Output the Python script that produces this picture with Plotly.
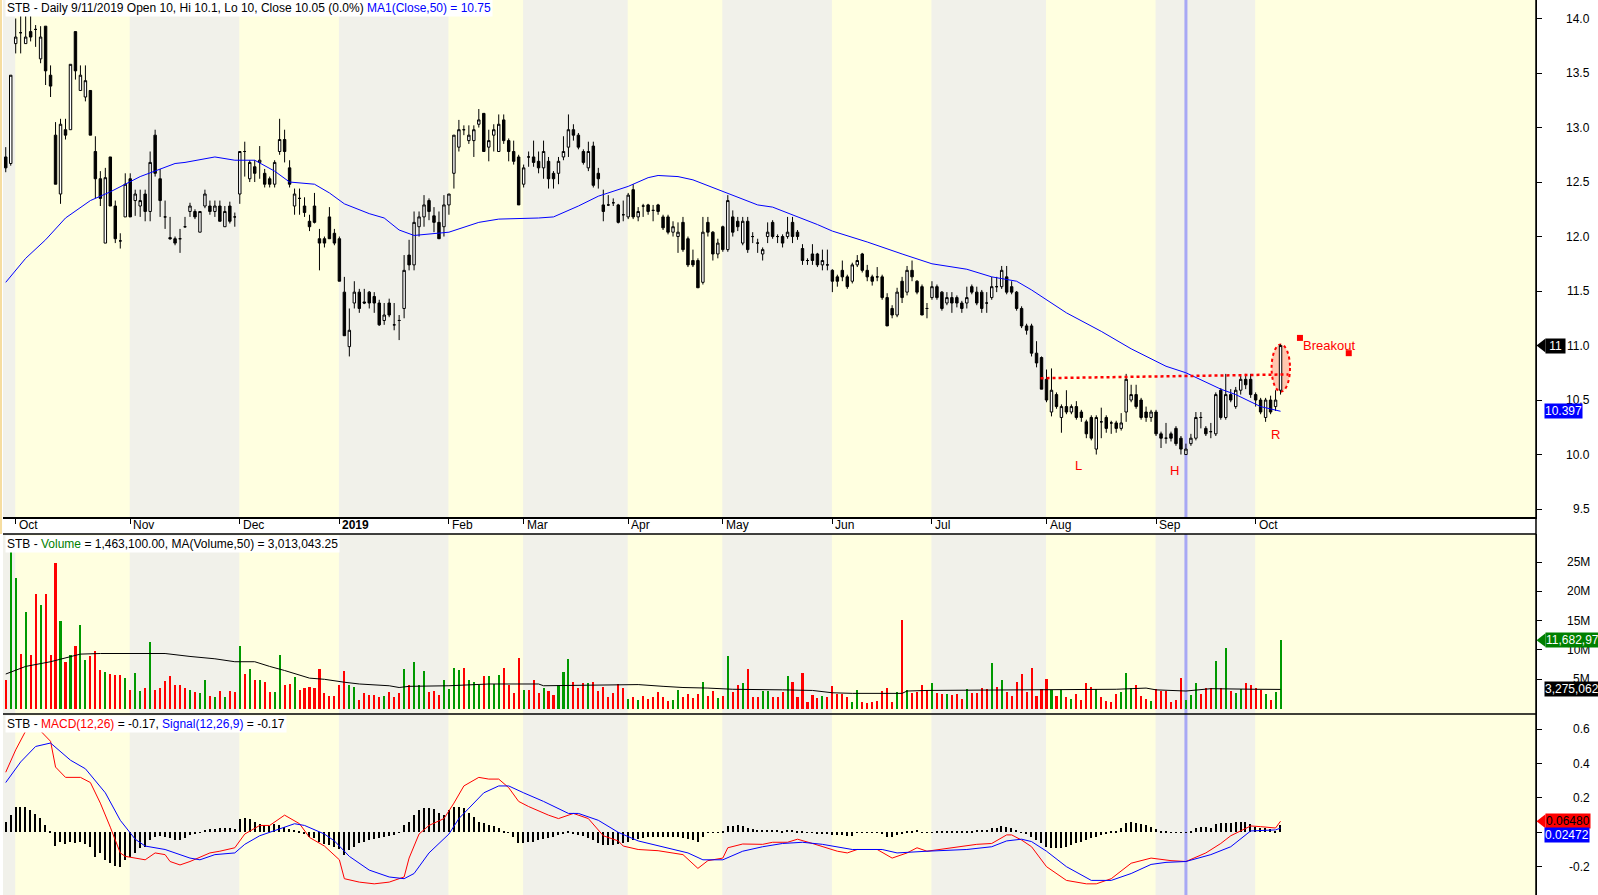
import plotly.graph_objects as go

# STB daily, bar 0 = 27 Sep 2018 ... bar 256 = 8 Oct 2019 (one bar per trading day)
month_start = [2, 25, 47, 67, 89, 104, 125, 144, 166, 186, 209, 231, 251]
month_text = ["Oct", "Nov", "Dec", "<b>2019</b>", "Feb", "Mar", "Apr", "May",
              "Jun", "Jul", "Aug", "Sep", "Oct"]

open_ = [12.73,12.67,13.77,13.87,13.77,13.88,13.90,13.63,13.93,13.48,
         12.93,12.39,12.98,12.98,13.88,13.34,13.28,13.34,12.78,12.53,
         11.94,12.73,12.28,11.96,12.18,12.53,12.33,12.28,12.39,12.23,
         12.93,12.53,12.18,11.99,11.98,11.98,12.09,12.23,12.23,12.04,
         12.28,12.28,12.23,12.28,12.09,12.28,12.18,12.39,12.78,12.53,
         12.64,12.68,12.58,12.53,12.48,12.78,12.89,12.63,12.28,12.35,
         12.28,12.14,12.28,11.98,11.98,12.18,12.03,11.98,11.49,10.99,
         11.39,11.49,11.40,11.49,11.45,11.39,11.23,11.39,11.19,11.23,
         11.34,11.83,11.74,12.09,12.18,12.33,12.19,12.13,12.09,12.29,
         12.58,12.82,12.98,12.88,12.88,13.03,13.13,12.82,12.93,12.78,
         13.07,12.88,12.78,12.73,12.48,12.73,12.73,12.69,12.63,12.69,
         12.58,12.58,12.73,12.82,12.98,12.93,12.78,12.63,12.83,12.58,
         12.29,12.29,12.31,12.29,12.20,12.18,12.43,12.18,12.28,12.29,
         12.24,12.29,12.18,12.18,12.04,12.00,12.13,11.98,11.78,11.78,
         11.58,12.13,12.04,11.84,12.09,11.88,12.18,12.14,11.94,12.14,
         12.00,11.94,11.84,12.00,12.13,12.00,12.00,12.00,12.13,12.04,
         11.89,11.78,11.84,11.84,11.74,11.74,11.69,11.63,11.69,11.63,
         11.59,11.74,11.84,11.69,11.63,11.63,11.63,11.44,11.34,11.28,
         11.59,11.49,11.69,11.59,11.54,11.34,11.44,11.54,11.49,11.39,
         11.44,11.44,11.39,11.39,11.54,11.49,11.49,11.39,11.44,11.54,
         11.54,11.63,11.54,11.49,11.34,11.18,11.18,10.93,10.89,10.69,
         10.39,10.55,10.34,10.44,10.39,10.44,10.39,10.30,10.34,10.05,
         10.30,10.34,10.29,10.29,10.24,10.39,10.50,10.55,10.50,10.39,
         10.34,10.39,10.19,10.15,10.19,10.24,10.15,10.00,10.10,10.15,
         10.34,10.24,10.21,10.19,10.59,10.34,10.55,10.44,10.59,10.69,
         10.69,10.55,10.50,10.34,10.50,10.44,10.59]

high_ = [12.82,13.48,14.00,14.03,14.03,14.03,13.94,13.93,13.93,13.57,
         13.05,13.08,13.08,13.58,13.88,13.57,13.57,13.34,12.92,12.60,
         12.63,12.73,12.33,12.03,12.58,12.58,12.43,12.43,12.43,12.78,
         12.98,12.62,12.33,12.18,12.00,12.07,12.18,12.31,12.25,12.23,
         12.43,12.33,12.33,12.33,12.28,12.32,12.22,12.78,12.87,12.70,
         12.70,12.83,12.62,12.55,12.70,13.08,12.98,12.70,12.44,12.44,
         12.36,12.20,12.40,12.07,12.00,12.27,12.07,12.00,11.63,11.34,
         11.59,11.52,11.52,11.50,11.49,11.42,11.39,11.43,11.39,11.28,
         11.83,11.97,12.23,12.23,12.38,12.35,12.27,12.23,12.38,12.39,
         12.93,13.07,13.02,13.02,13.02,13.17,13.13,12.98,13.03,13.12,
         13.12,12.90,12.88,12.75,12.66,12.78,12.88,12.78,12.88,12.73,
         12.60,12.73,12.92,13.12,13.03,12.95,12.80,12.87,12.87,12.63,
         12.43,12.38,12.35,12.30,12.33,12.40,12.48,12.27,12.30,12.30,
         12.29,12.30,12.20,12.20,12.14,12.13,12.18,12.00,11.88,11.80,
         12.18,12.18,12.05,11.98,12.10,12.38,12.24,12.18,12.18,12.18,
         12.04,11.98,11.90,12.13,12.15,12.02,12.02,12.18,12.18,12.06,
         11.93,11.80,11.93,11.85,11.88,11.88,11.70,11.65,11.78,11.65,
         11.76,11.83,11.85,11.74,11.65,11.72,11.65,11.48,11.37,11.53,
         11.63,11.73,11.78,11.60,11.56,11.39,11.59,11.56,11.50,11.49,
         11.49,11.46,11.41,11.54,11.56,11.54,11.51,11.49,11.63,11.63,
         11.73,11.73,11.59,11.50,11.36,11.20,11.20,11.04,10.90,10.78,
         10.79,10.57,10.46,10.59,10.46,10.49,10.41,10.32,10.36,10.36,
         10.43,10.36,10.31,10.31,10.38,10.74,10.64,10.64,10.52,10.44,
         10.41,10.41,10.21,10.29,10.21,10.26,10.17,10.10,10.19,10.39,
         10.39,10.26,10.29,10.57,10.61,10.74,10.60,10.62,10.72,10.74,
         10.74,10.57,10.52,10.52,10.54,10.59,11.01]

low_ = [12.59,12.65,13.68,13.68,13.77,13.79,13.74,13.59,13.39,13.28,
        12.48,12.30,12.89,12.98,13.44,13.34,13.24,12.93,12.35,12.28,
        11.94,12.28,11.94,11.89,12.18,12.18,12.19,12.18,12.14,12.14,
        12.55,12.18,12.07,11.97,11.92,11.85,12.08,12.18,12.16,12.04,
        12.26,12.20,12.18,12.14,12.09,12.12,12.09,12.30,12.55,12.50,
        12.50,12.53,12.45,12.45,12.45,12.75,12.68,12.45,12.20,12.20,
        12.18,12.05,12.12,11.69,11.90,11.98,11.92,11.59,11.09,10.90,
        11.34,11.30,11.38,11.34,11.30,11.18,11.19,11.26,11.14,11.05,
        11.25,11.69,11.69,12.00,12.09,12.15,12.04,11.98,12.00,12.20,
        12.44,12.78,12.93,12.85,12.73,13.00,12.78,12.69,12.78,12.78,
        12.85,12.69,12.66,12.29,12.45,12.64,12.64,12.58,12.53,12.44,
        12.44,12.48,12.70,12.73,12.88,12.80,12.66,12.60,12.45,12.44,
        12.14,12.28,12.28,12.12,12.14,12.16,12.16,12.14,12.18,12.20,
        12.14,12.20,12.06,12.02,12.00,11.85,11.86,11.72,11.72,11.53,
        11.56,12.00,11.78,11.80,11.86,11.86,12.00,12.05,11.92,11.85,
        11.94,11.85,11.78,11.94,11.98,11.94,11.90,11.98,11.94,11.97,
        11.74,11.74,11.74,11.72,11.69,11.69,11.49,11.54,11.59,11.52,
        11.57,11.72,11.67,11.59,11.55,11.59,11.42,11.18,11.25,11.26,
        11.39,11.46,11.59,11.47,11.28,11.25,11.42,11.42,11.32,11.37,
        11.30,11.35,11.30,11.34,11.47,11.37,11.30,11.30,11.42,11.49,
        11.52,11.47,11.47,11.32,11.16,11.10,10.90,10.80,10.60,10.48,
        10.35,10.42,10.20,10.37,10.37,10.32,10.30,10.15,10.13,10.00,
        10.15,10.20,10.19,10.20,10.22,10.30,10.48,10.42,10.32,10.30,
        10.30,10.17,10.06,10.10,10.12,10.08,10.00,10.00,10.08,10.13,
        10.24,10.17,10.15,10.17,10.32,10.32,10.48,10.42,10.55,10.60,
        10.52,10.44,10.37,10.30,10.37,10.40,10.55]

close_ = [12.63,13.48,13.83,13.87,13.83,13.83,13.90,13.83,13.52,13.38,
          12.48,13.03,12.93,13.58,13.52,13.48,13.43,12.93,12.53,12.35,
          12.54,12.28,11.98,11.96,12.48,12.18,12.39,12.33,12.23,12.68,
          12.58,12.33,12.18,11.98,11.94,11.98,12.09,12.28,12.18,12.23,
          12.39,12.23,12.28,12.14,12.23,12.14,12.18,12.78,12.78,12.68,
          12.58,12.70,12.48,12.48,12.68,12.89,12.78,12.48,12.39,12.35,
          12.22,12.09,12.13,11.94,11.94,11.98,11.94,11.59,11.09,11.14,
          11.49,11.34,11.39,11.39,11.39,11.19,11.28,11.28,11.19,11.23,
          11.69,11.74,12.13,12.18,12.29,12.23,12.13,11.98,12.29,12.39,
          12.93,12.98,12.98,12.93,12.98,13.07,12.78,12.88,12.98,13.03,
          12.88,12.78,12.69,12.29,12.63,12.73,12.68,12.63,12.78,12.53,
          12.53,12.69,12.78,12.98,12.93,12.82,12.68,12.78,12.47,12.53,
          12.23,12.29,12.31,12.13,12.20,12.38,12.18,12.23,12.28,12.23,
          12.24,12.23,12.08,12.04,12.09,12.04,11.88,11.74,11.74,11.53,
          12.04,12.04,11.84,11.94,11.88,12.33,12.04,12.09,12.14,11.88,
          12.00,11.94,11.88,12.04,12.00,12.00,11.94,12.04,12.00,12.00,
          11.78,11.78,11.78,11.74,11.78,11.74,11.59,11.59,11.63,11.54,
          11.74,11.78,11.69,11.63,11.59,11.63,11.44,11.18,11.28,11.49,
          11.44,11.69,11.63,11.49,11.28,11.34,11.54,11.44,11.34,11.44,
          11.39,11.39,11.34,11.44,11.49,11.39,11.34,11.39,11.54,11.54,
          11.69,11.49,11.49,11.34,11.18,11.14,10.93,10.84,10.60,10.50,
          10.59,10.44,10.44,10.39,10.44,10.34,10.34,10.19,10.15,10.34,
          10.30,10.24,10.29,10.24,10.29,10.69,10.55,10.44,10.34,10.34,
          10.39,10.19,10.15,10.15,10.15,10.10,10.05,10.05,10.15,10.34,
          10.34,10.19,10.21,10.55,10.34,10.55,10.50,10.59,10.69,10.64,
          10.55,10.50,10.39,10.50,10.39,10.50,11.00]

# volume in millions of shares
volume_m = [4.9,27.0,22.2,9.3,16.4,9.1,19.6,17.7,19.5,9.2,
            24.8,15.0,8.0,9.1,10.6,14.3,8.3,9.0,9.8,6.6,
            6.2,5.9,5.7,5.7,5.2,3.2,6.0,3.0,3.5,11.3,
            3.2,3.5,4.7,5.6,4.1,4.1,3.6,3.2,2.8,2.6,
            4.9,2.2,1.9,3.0,2.0,3.0,2.9,10.7,5.9,6.7,
            4.9,4.9,4.5,2.9,2.9,9.1,4.0,4.2,5.4,3.2,
            3.5,3.7,3.5,6.8,2.6,2.2,2.2,4.0,6.5,4.0,
            3.7,1.5,2.7,2.4,2.3,2.0,2.2,2.8,1.9,2.6,
            6.8,4.0,8.0,4.0,6.5,2.9,3.0,2.3,4.9,3.4,
            7.0,6.6,7.0,4.9,4.6,4.0,5.6,5.6,4.2,5.7,
            7.0,4.0,2.6,8.6,3.2,3.2,4.8,2.7,3.6,3.0,
            2.3,4.0,6.3,8.4,4.5,3.5,4.4,4.4,4.5,3.0,
            3.7,1.9,2.6,4.2,3.5,1.7,2.0,1.4,2.2,1.6,
            1.9,2.8,1.9,1.3,1.5,3.2,1.9,2.5,1.8,2.5,
            4.5,2.1,3.0,1.8,2.1,8.9,2.8,4.0,4.4,6.7,
            1.9,1.9,3.0,3.0,2.0,1.9,2.9,5.6,4.5,1.9,
            6.0,1.2,2.3,1.8,2.1,1.9,3.9,2.5,2.5,2.0,
            1.2,3.2,1.1,1.0,1.2,1.3,3.0,3.5,1.2,2.8,
            15.1,3.2,2.6,2.9,4.1,3.2,4.4,2.7,2.5,2.5,
            2.3,2.5,1.7,3.3,2.7,2.7,3.5,3.3,7.8,3.7,
            4.9,2.9,2.1,4.5,5.9,2.9,7.0,2.2,3.4,5.1,
            3.2,2.1,3.2,1.9,1.6,2.5,1.5,4.3,3.7,3.3,
            2.0,1.3,1.2,2.5,2.9,6.0,3.6,4.1,2.2,1.6,
            1.3,3.3,3.0,3.0,1.2,1.4,5.2,1.46,2.3,4.3,
            2.5,3.5,3.5,8.1,3.6,10.3,3.0,2.6,3.3,4.3,
            4.1,3.6,3.2,2.5,1.5,2.9,11.68]

# MA(Close,50) at a set of bars
ma_idx = [0,4,8,12,17,21,27,34,36,42,46,50,54,57,62,65,68,73,76,79,82,
          86,89,95,99,107,110,115,119,125,129,131,135,138,143,146,151,154,
          158,163,166,173,180,186,193,198,203,206,213,220,226,233,237,244,
          247,252,256]
ma_val = [11.58,11.80,11.97,12.17,12.33,12.41,12.55,12.67,12.68,12.73,12.70,
          12.70,12.60,12.50,12.48,12.40,12.30,12.21,12.17,12.06,12.01,
          12.03,12.04,12.13,12.16,12.17,12.18,12.28,12.37,12.46,12.54,12.56,
          12.55,12.52,12.43,12.38,12.29,12.27,12.20,12.11,12.05,11.95,11.84,
          11.75,11.70,11.63,11.59,11.51,11.30,11.13,10.97,10.81,10.75,10.60,
          10.55,10.44,10.397]

# MA(Volume,50), millions
vma_idx = [0,4,9,15,19,24,32,37,42,46,50,53,56,61,64,68,71,77,79,81,89,97,
           107,108,127,132,136,141,146,156,162,166,170,180,181,185,197,210,
           223,229,231,237,242,251,256]
vma_val = [5.9,7.2,8.0,9.3,9.4,9.4,9.4,8.9,8.5,8.0,8.0,7.2,6.5,5.2,5.0,4.5,
           4.2,3.9,3.6,3.8,3.9,4.2,4.2,3.9,4.1,3.8,3.6,3.5,3.3,3.2,3.1,2.7,
           2.6,2.6,3.0,3.1,3.2,3.2,3.3,3.5,3.2,3.0,3.4,3.3,3.275]

macd_idx = [0,2,4,7,9,10,12,15,17,19,21,23,24,28,30,32,33,35,37,41,43,46,48,
            51,53,56,59,61,64,67,68,71,74,77,80,81,83,85,88,90,92,95,97,99,
            101,103,105,109,111,114,117,120,123,124,127,131,136,139,141,144,
            145,148,152,154,157,159,162,167,169,171,175,178,181,183,185,190,
            195,198,201,202,204,206,209,213,217,219,222,226,230,234,237,241,
            244,246,250,252,255,256]
macd_val = [0.35,0.48,0.59,0.59,0.53,0.38,0.32,0.32,0.29,0.17,0.03,-0.12,
            -0.14,-0.16,-0.12,-0.13,-0.17,-0.19,-0.17,-0.12,-0.11,-0.09,-0.01,
            0.04,0.04,0.10,0.05,-0.03,-0.08,-0.16,-0.27,-0.29,-0.30,-0.29,
            -0.26,-0.15,-0.01,0.04,0.08,0.17,0.27,0.32,0.31,0.31,0.26,0.18,
            0.15,0.10,0.08,0.11,0.08,-0.02,-0.05,-0.08,-0.10,-0.107,-0.13,
            -0.21,-0.165,-0.15,-0.09,-0.068,-0.07,-0.058,-0.058,-0.04,-0.065,
            -0.11,-0.12,-0.10,-0.10,-0.15,-0.12,-0.09,-0.11,-0.09,-0.07,
            -0.065,-0.015,-0.015,-0.045,-0.084,-0.20,-0.28,-0.30,-0.30,-0.27,
            -0.18,-0.15,-0.165,-0.17,-0.12,-0.065,-0.02,0.037,0.033,0.025,
            0.0648]

sig_idx = [0,3,6,9,13,16,20,23,26,28,32,37,39,42,46,48,51,55,58,60,64,66,
           69,73,77,80,82,85,89,91,94,96,99,101,104,108,113,115,119,123,127,
           132,137,140,144,148,152,156,160,164,170,176,179,185,193,198,201,
           204,206,209,213,218,222,226,230,233,237,242,246,250,255,256]
sig_val = [0.29,0.41,0.50,0.52,0.42,0.37,0.23,0.07,-0.04,-0.08,-0.10,-0.15,
           -0.16,-0.13,-0.12,-0.07,-0.02,0.02,0.05,0.04,-0.01,-0.05,-0.14,
           -0.22,-0.26,-0.27,-0.24,-0.12,-0.01,0.08,0.17,0.23,0.27,0.27,0.23,
           0.18,0.11,0.11,0.07,0.0,-0.05,-0.084,-0.12,-0.16,-0.16,-0.11,
           -0.084,-0.065,-0.058,-0.07,-0.10,-0.10,-0.12,-0.11,-0.10,-0.084,
           -0.05,-0.04,-0.054,-0.11,-0.20,-0.28,-0.28,-0.24,-0.187,-0.175,
           -0.17,-0.13,-0.084,0.008,0.014,0.0247]

hist = [0.062,0.101,0.146,0.150,0.146,0.130,0.107,0.082,0.043,0.004,
        -0.078,-0.054,-0.068,-0.054,-0.064,-0.054,-0.068,-0.084,-0.142,-0.122,
        -0.161,-0.181,-0.194,-0.200,-0.161,-0.142,-0.122,-0.093,-0.084,-0.045,
        -0.025,-0.021,-0.025,-0.035,-0.045,-0.045,-0.035,-0.016,-0.006,-0.002,
        0.014,0.019,0.021,0.023,0.023,0.023,0.017,0.076,0.082,0.076,
        0.062,0.049,0.043,0.037,0.049,0.043,0.033,0.019,0.014,0.004,
        -0.010,-0.025,-0.035,-0.054,-0.068,-0.074,-0.084,-0.099,-0.132,-0.103,
        -0.084,-0.064,-0.054,-0.045,-0.041,-0.035,-0.025,-0.021,-0.016,-0.002,
        0.043,0.062,0.101,0.130,0.140,0.140,0.134,0.115,0.101,0.130,
        0.150,0.150,0.140,0.111,0.091,0.062,0.052,0.043,0.037,0.023,
        0.004,-0.002,-0.025,-0.064,-0.064,-0.054,-0.054,-0.045,-0.041,-0.035,
        -0.025,-0.016,-0.006,0.002,-0.006,-0.016,-0.021,-0.035,-0.045,-0.064,
        -0.074,-0.074,-0.074,-0.068,-0.064,-0.054,-0.045,-0.041,-0.035,-0.029,
        -0.025,-0.025,-0.025,-0.025,-0.025,-0.029,-0.035,-0.041,-0.045,-0.054,
        -0.029,-0.002,0.001,0.001,0.004,0.037,0.037,0.043,0.037,0.023,
        0.017,0.014,0.014,0.014,0.014,0.014,0.010,0.014,0.014,0.010,
        0.004,0.001,-0.002,-0.006,-0.010,-0.010,-0.016,-0.016,-0.016,-0.021,
        -0.021,-0.002,-0.002,0.001,0.001,0.001,-0.006,-0.025,-0.029,-0.016,
        -0.006,0.004,0.010,0.014,0.001,0.001,0.001,0.004,0.004,0.004,
        0.004,0.004,0.004,0.008,0.010,0.014,0.014,0.014,0.023,0.023,
        0.037,0.033,0.023,0.014,0.001,-0.006,-0.025,-0.045,-0.064,-0.084,
        -0.089,-0.089,-0.089,-0.084,-0.074,-0.064,-0.054,-0.045,-0.035,-0.025,
        -0.016,-0.006,0.004,0.008,0.023,0.052,0.060,0.056,0.049,0.043,
        0.029,0.017,0.008,0.004,0.001,0.001,-0.002,0.001,0.004,0.023,
        0.029,0.033,0.023,0.049,0.052,0.056,0.056,0.060,0.062,0.062,
        0.049,0.033,0.023,0.023,0.017,0.010,0.040]

selected_bar = 237          # 11 Sep 2019
neckline = ([207.8, 257.6], [10.70, 10.735])

bars = list(range(len(close_)))
vol_colors = ["#009900" if c > o else "#FF0000" for o, c in zip(open_, close_)]

FONT = "Liberation Sans, Arial, sans-serif"
YELLOW = "#FFFFE0"
GREY = "#F1F1EA"
W, H = 1598, 895
XR = [-0.55, 307.3]
price_rng = [9.427, 14.17]
vol_rng = [-0.92, 29.79]
macd_rng = [-0.365, 0.689]
dom_price = [1 - 517 / H, 1]
dom_vol = [1 - 714 / H, 1 - 534 / H]
dom_macd = [0, 1 - 714 / H]

fig = go.Figure()

fig.add_trace(go.Candlestick(
    x=bars, open=open_, high=high_, low=low_, close=close_,
    increasing=dict(line=dict(color="black", width=1), fillcolor="white"),
    decreasing=dict(line=dict(color="black", width=1), fillcolor="black"),
    whiskerwidth=0, xaxis="x", yaxis="y", showlegend=False))
fig.add_trace(go.Scatter(x=ma_idx, y=ma_val, mode="lines",
                         line=dict(color="#0000FF", width=1),
                         xaxis="x", yaxis="y", showlegend=False))

fig.add_trace(go.Bar(x=bars, y=volume_m, width=0.42,
                     marker=dict(color=vol_colors, line=dict(width=0)),
                     xaxis="x2", yaxis="y2", showlegend=False))
fig.add_trace(go.Scatter(x=vma_idx, y=vma_val, mode="lines",
                         line=dict(color="black", width=1),
                         xaxis="x2", yaxis="y2", showlegend=False))

fig.add_trace(go.Bar(x=bars, y=hist, width=0.28,
                     marker=dict(color="black", line=dict(width=0)),
                     xaxis="x3", yaxis="y3", showlegend=False))
fig.add_trace(go.Scatter(x=macd_idx, y=macd_val, mode="lines",
                         line=dict(color="#FF0000", width=1),
                         xaxis="x3", yaxis="y3", showlegend=False))
fig.add_trace(go.Scatter(x=sig_idx, y=sig_val, mode="lines",
                         line=dict(color="#0000FF", width=1),
                         xaxis="x3", yaxis="y3", showlegend=False))

# handles of the "Breakout" text box
fig.add_trace(go.Scatter(x=[259.9, 269.7], y=[11.07, 10.93], mode="markers",
                         marker=dict(symbol="square", size=6, color="#FF0000"),
                         xaxis="x", yaxis="y", showlegend=False))

shapes = []
grey_spans = [(XR[0], month_start[0] - 0.1)] + [
    (month_start[k] - 0.1, month_start[k + 1] - 0.1) for k in (1, 3, 5, 7, 9, 11)]
for xa, ya in (("x", "y"), ("x2", "y2"), ("x3", "y3")):
    for a, b in grey_spans:
        shapes.append(dict(type="rect", xref=xa, yref=ya + " domain", x0=a, x1=b,
                           y0=0, y1=1, fillcolor=GREY, line=dict(width=0),
                           layer="below"))
    shapes.append(dict(type="line", xref=xa, yref=ya + " domain",
                       x0=selected_bar, x1=selected_bar, y0=0, y1=1,
                       line=dict(color="#A8A8F4", width=3), layer="below"))

# pattern drawing: neckline and breakout ellipse
shapes.append(dict(type="line", xref="x", yref="y",
                   x0=neckline[0][0], x1=neckline[0][1],
                   y0=neckline[1][0], y1=neckline[1][1],
                   line=dict(color="#FF0000", width=2.5, dash="dot")))
shapes.append(dict(type="circle", xref="x", yref="y", x0=254.2, x1=257.9,
                   y0=10.577, y1=11.01, fillcolor="rgba(255,0,0,0.22)",
                   line=dict(color="#FF0000", width=2, dash="dot"), layer="below"))

# panel separators and right border
for yy in (1 - 534 / H, 1 - 714 / H):
    shapes.append(dict(type="line", xref="paper", yref="paper", x0=0, x1=1,
                       y0=yy, y1=yy, line=dict(color="black", width=1.5)))
shapes.append(dict(type="line", xref="paper", yref="paper", x0=1, x1=1,
                   y0=0, y1=1, line=dict(color="black", width=1.5)))
shapes.append(dict(type="rect", xref="paper", yref="paper", x0=-3 / 1533,
                   x1=-1 / 1533, y0=dom_vol[1], y1=1, fillcolor="#F6DDA0",
                   line=dict(width=0)))

ann = []

def panel_title(text, ypx):
    ann.append(dict(xref="paper", yref="paper", x=0, y=1 - ypx / H, text=text,
                    xanchor="left", yanchor="middle", showarrow=False,
                    bgcolor="white", borderpad=1, xshift=2,
                    font=dict(family=FONT, size=12, color="black")))

panel_title("STB - Daily 9/11/2019 Open 10, Hi 10.1, Lo 10, Close 10.05 (0.0%) "
            "<span style='color:#0000FF'>MA1(Close,50) = 10.75</span>", 8)
panel_title("STB - <span style='color:#008000'>Volume</span> = 1,463,100.00, "
            "MA(Volume,50) = 3,013,043.25", 544)
panel_title("STB - <span style='color:#FF0000'>MACD(12,26)</span> = -0.17, "
            "<span style='color:#0000FF'>Signal(12,26,9)</span> = -0.17", 724)

for ms, mt in zip(month_start, month_text):
    ann.append(dict(xref="x", yref="paper", x=ms, y=1 - 525 / H, text=mt,
                    xanchor="left", yanchor="middle", showarrow=False, xshift=1,
                    font=dict(family=FONT, size=12, color="black")))

# right-hand scale labels (right aligned)
LABEL_X = 1 + 56 / 1533
price_ticks = [9.5, 10.0, 10.5, 11.0, 11.5, 12.0, 12.5, 13.0, 13.5, 14.0]
vol_ticks = [5, 10, 15, 20, 25]
macd_ticks = [-0.2, 0.2, 0.4, 0.6]
for ya, vals, fmt in (("y", price_ticks, "{:.1f}"),
                      ("y2", vol_ticks, "{}M"),
                      ("y3", macd_ticks, "{:.1f}")):
    for v in vals:
        ann.append(dict(xref="paper", yref=ya, x=LABEL_X, y=v, text=fmt.format(v),
                        xanchor="right", yanchor="middle", showarrow=False,
                        font=dict(family=FONT, size=12, color="black")))

def value_box(ya, v, text, bg, fg, arrow, dv, yshift=0):
    ann.append(dict(xref="paper", yref=ya, x=1, y=v, text=text, xanchor="left",
                    yanchor="middle", showarrow=False, xshift=9 if arrow else 8,
                    yshift=yshift, bgcolor=bg, borderpad=0,
                    font=dict(family=FONT, size=12, color=fg)))
    if arrow:
        x0, x1 = 1 + 0.5 / 1533, 1 + 9.5 / 1533
        shapes.append(dict(type="path", xref="paper", yref=ya,
                           path=f"M {x0},{v} L {x1},{v + dv} L {x1},{v - dv} Z",
                           fillcolor=bg, line=dict(width=0)))

value_box("y", 11.0, " 11 ", "black", "white", True, 0.064)
value_box("y", 10.397, "10.397", "#0000FF", "white", False, 0)
value_box("y2", 11.68, "11,682,97", "#008000", "white", True, 1.19)
value_box("y2", 3.275, "3,275,062", "black", "white", False, 0)
value_box("y3", 0.0648, "0.06480", "#FF0000", "black", True, 0.041)
value_box("y3", 0.0247, "0.02472", "#0000FF", "white", False, 0, yshift=-7)

# pattern labels
for x, y, t in ((215.5, 9.90, "L"), (234.8, 9.85, "H"), (254.9, 10.18, "R"),
                (260.1, 11.0, "Breakout")):
    ann.append(dict(xref="x", yref="y", x=x, y=y, text=t, showarrow=False,
                    xanchor="left" if t == "Breakout" else "center",
                    yanchor="middle", font=dict(family=FONT, size=13, color="#FF0000")))

axis_common = dict(showgrid=False, zeroline=False)
fig.update_layout(
    width=W, height=H, autosize=False,
    margin=dict(l=3, r=62, t=0, b=0, pad=0),
    paper_bgcolor="white", plot_bgcolor=YELLOW,
    font=dict(family=FONT, size=12, color="black"),
    showlegend=False, bargap=0,
    xaxis=dict(domain=[0, 1], range=XR, anchor="y", rangeslider=dict(visible=False),
               showline=True, linecolor="black", linewidth=1.5, ticks="outside",
               ticklen=5, tickcolor="black", tickvals=month_start,
               showticklabels=False, **axis_common),
    yaxis=dict(domain=dom_price, range=price_rng, side="right", anchor="x",
               showline=True, linecolor="black", ticks="outside", ticklen=5,
               tickcolor="black", tickvals=price_ticks, showticklabels=False,
               **axis_common),
    xaxis2=dict(domain=[0, 1], range=XR, anchor="y2", matches="x", visible=False,
                **axis_common),
    yaxis2=dict(domain=dom_vol, range=vol_rng, side="right", anchor="x2",
                showline=True, linecolor="black", ticks="outside", ticklen=5,
                tickcolor="black", tickvals=vol_ticks, showticklabels=False,
                **axis_common),
    xaxis3=dict(domain=[0, 1], range=XR, anchor="y3", matches="x", visible=False,
                **axis_common),
    yaxis3=dict(domain=dom_macd, range=macd_rng, side="right", anchor="x3",
                showline=True, linecolor="black", ticks="outside", ticklen=5,
                tickcolor="black", tickvals=[-0.2, 0.0, 0.2, 0.4, 0.6],
                showticklabels=False, **axis_common),
    shapes=shapes, annotations=ann,
)

# the page's default 8px body margin would push the chart off the window
fig.write_html("out.html", config={"displayModeBar": False},
               post_script="document.body.style.margin='0';"
                           "document.body.style.overflow='hidden';")
